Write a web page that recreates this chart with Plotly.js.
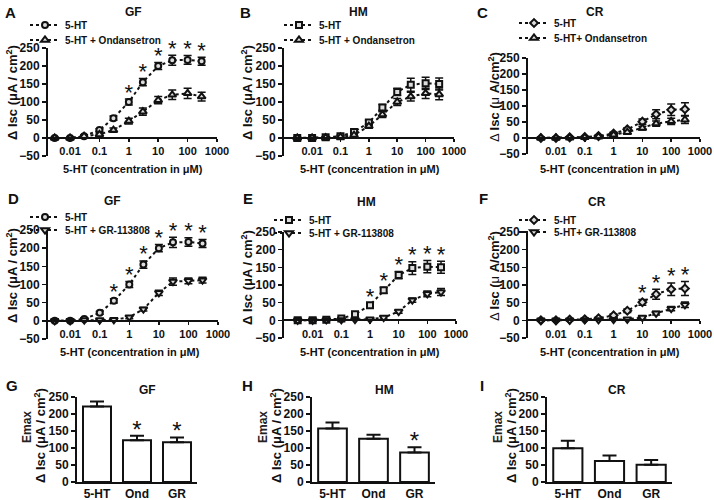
<!DOCTYPE html>
<html><head><meta charset="utf-8">
<script src="https://cdn.plot.ly/plotly-3.0.1.min.js"></script>
<style>html,body{margin:0;padding:0;background:#fff;}#chart{width:714px;height:500px;}</style>
</head><body><div id="chart"></div>
<script>
// ---------- data ----------
const conc = [0.003, 0.01, 0.03, 0.1, 0.3, 1, 3, 10, 30, 100, 300];
const xTickVals = [0.01, 0.1, 1, 10, 100, 1000];
const xTickText = ['0.01', '0.1', '1', '10', '100', '1000'];

const gf_5ht     = [0, 0, 5, 22, 55, 100, 155, 200, 216, 217, 213];
const gf_5ht_sem = [2, 2, 3, 4, 6, 8, 10, 10, 14, 12, 11];
const gf_ond     = [0, 0, 5, 10, 22, 47, 73, 105, 120, 124, 115];
const gf_ond_sem = [2, 2, 3, 4, 6, 8, 10, 10, 13, 14, 12];
const gf_gr      = [0, 0, 2, 2, 3, 10, 32, 77, 108, 110, 112];
const gf_gr_sem  = [2, 2, 2, 2, 3, 4, 5, 7, 10, 8, 8];

const hm_5ht     = [0, 0, 2, 5, 17, 43, 85, 128, 148, 152, 150];
const hm_5ht_sem = [2, 2, 2, 3, 4, 6, 8, 10, 18, 17, 17];
const hm_ond     = [0, 0, 1, 3, 8, 33, 65, 100, 115, 124, 121];
const hm_ond_sem = [2, 2, 2, 3, 4, 6, 8, 10, 12, 14, 15];
const hm_gr      = [0, 0, 1, 1, 2, 3, 8, 25, 57, 75, 80];
const hm_gr_sem  = [2, 2, 2, 2, 2, 3, 4, 5, 6, 8, 10];

const cr_5ht     = [0, 0, 2, 3, 6, 14, 27, 51, 74, 88, 90];
const cr_5ht_sem = [2, 2, 2, 2, 3, 4, 5, 8, 14, 18, 20];
const cr_ond     = [0, 0, 1, 2, 4, 10, 18, 31, 45, 52, 57];
const cr_ond_sem = [2, 2, 2, 2, 3, 4, 5, 6, 8, 10, 12];
const cr_gr      = [0, 0, 0, 1, 1, 2, 3, 8, 20, 33, 44];
const cr_gr_sem  = [1, 1, 1, 1, 1, 2, 2, 4, 5, 6, 8];

// significance flags (1 = asterisk above the 5-HT point)
const sigA = [0, 0, 0, 0, 0, 1, 1, 1, 1, 1, 1];
const sigB = [0, 0, 0, 0, 0, 0, 0, 0, 0, 0, 0];
const sigC = [0, 0, 0, 0, 0, 0, 0, 0, 0, 0, 0];
const sigD = [0, 0, 0, 0, 1, 1, 1, 1, 1, 1, 1];
const sigE = [0, 0, 0, 0, 0, 1, 1, 1, 1, 1, 1];
const sigF = [0, 0, 0, 0, 0, 0, 0, 1, 1, 1, 1];

const groups = ['5-HT', 'Ond', 'GR'];
const gf_emax = [222, 123, 117];
const gf_emax_sem = [15, 13, 14];
const gf_emax_sig = [0, 1, 1];
const hm_emax = [157, 127, 87];
const hm_emax_sem = [18, 12, 15];
const hm_emax_sig = [0, 0, 1];
const cr_emax = [99, 62, 51];
const cr_emax_sem = [22, 16, 14];
const cr_emax_sig = [0, 0, 0];

const yTicksCurve = [-50, 0, 50, 100, 150, 200, 250];
const yTicksBar = [0, 50, 100, 150, 200, 250];

// ---------- helpers ----------
const W = 714, H = 500;
const FONT = 'Liberation Sans, Arial, sans-serif';
const fx = px => px / W;
const fy = py => 1 - py / H;
const bold = (size) => ({family: FONT, size: size, color: '#111', weight: 'bold'});
const STAR_PAD_CURVE = 14;   // gap (data units) between error cap and asterisk
const STAR_PAD_BAR = 12;

const YT_STD = '<b>Δ Isc (μA / cm<sup>2</sup>)</b>';
const YT_CR = 'Δ <b>Isc (</b>μ<b> A/cm</b><sup><b>2</b></sup><b>)</b>';

const curvePanels = [
  {n: 1, letter: 'A', title: 'GF', l: 48, r: 217, t: 48, b: 156, L: -2.75,
   s1: gf_5ht, e1: gf_5ht_sem, s2: gf_ond, e2: gf_ond_sem, sig: sigA,
   sym1: 'circle', sym2: 'triangle-up', n1: '5-HT', n2: '5-HT + Ondansetron', yt: YT_STD,
   lx: 53, ly1: 25, ly2: 40, tx: 133, ty: 12, ax: 10, ay: 12, xtx: 133, xty: 169, ytx: 12, yty: 93},
  {n: 2, letter: 'B', title: 'HM', l: 284, r: 454, t: 48, b: 156, L: -2.99,
   s1: hm_5ht, e1: hm_5ht_sem, s2: hm_ond, e2: hm_ond_sem, sig: sigB,
   sym1: 'square', sym2: 'triangle-up', n1: '5-HT', n2: '5-HT + Ondansetron', yt: YT_STD,
   lx: 307, ly1: 25, ly2: 40, tx: 358, ty: 12, ax: 245, ay: 12, xtx: 370, xty: 169, ytx: 247, yty: 93},
  {n: 3, letter: 'C', title: 'CR', l: 528, r: 700, t: 58, b: 154, L: -2.97,
   s1: cr_5ht, e1: cr_5ht_sem, s2: cr_ond, e2: cr_ond_sem, sig: sigC,
   sym1: 'diamond', sym2: 'triangle-up', n1: '5-HT', n2: '5-HT+ Ondansetron', yt: YT_CR,
   lx: 542, ly1: 23, ly2: 38, tx: 595, ty: 12, ax: 482, ay: 12, xtx: 610, xty: 169, ytx: 494, yty: 97},
  {n: 4, letter: 'D', title: 'GF', l: 48, r: 218, t: 230, b: 339, L: -2.75,
   s1: gf_5ht, e1: gf_5ht_sem, s2: gf_gr, e2: gf_gr_sem, sig: sigD,
   sym1: 'circle', sym2: 'triangle-down', n1: '5-HT', n2: '5-HT + GR-113808', yt: YT_STD,
   lx: 53, ly1: 217, ly2: 230, tx: 112, ty: 201, ax: 13, ay: 198, xtx: 130, xty: 352, ytx: 12, yty: 276},
  {n: 5, letter: 'E', title: 'HM', l: 284, r: 456, t: 232, b: 338, L: -3.0,
   s1: hm_5ht, e1: hm_5ht_sem, s2: hm_gr, e2: hm_gr_sem, sig: sigE,
   sym1: 'square', sym2: 'triangle-down', n1: '5-HT', n2: '5-HT + GR-113808', yt: YT_STD,
   lx: 297, ly1: 220, ly2: 233, tx: 367, ty: 202, ax: 248, ay: 198, xtx: 370, xty: 352, ytx: 247, yty: 278},
  {n: 6, letter: 'F', title: 'CR', l: 528, r: 700, t: 232, b: 338, L: -2.97,
   s1: cr_5ht, e1: cr_5ht_sem, s2: cr_gr, e2: cr_gr_sem, sig: sigF,
   sym1: 'diamond', sym2: 'triangle-down', n1: '5-HT', n2: '5-HT+ GR-113808', yt: YT_CR,
   lx: 542, ly1: 220, ly2: 232, tx: 597, ty: 202, ax: 483, ay: 198, xtx: 610, xty: 352, ytx: 494, yty: 276}
];

const barPanels = [
  {n: 7, letter: 'G', title: 'GF', l: 77, r: 197, t: 397, b: 482, v: gf_emax, e: gf_emax_sem, sig: gf_emax_sig,
   tx: 147, ty: 390, ax: 12, ay: 385, e1x: 27, e1y: 427, e2x: 40, e2y: 436},
  {n: 8, letter: 'H', title: 'HM', l: 312, r: 435, t: 397, b: 482, v: hm_emax, e: hm_emax_sem, sig: hm_emax_sig,
   tx: 384, ty: 390, ax: 247, ay: 385, e1x: 263, e1y: 427, e2x: 276, e2y: 436},
  {n: 9, letter: 'I', title: 'CR', l: 547, r: 672, t: 397, b: 482, v: cr_emax, e: cr_emax_sem, sig: cr_emax_sig,
   tx: 617, ty: 390, ax: 482, ay: 385, e1x: 498, e1y: 427, e2x: 511, e2y: 436}
];

const traces = [];
const layout = {
  width: W, height: H, margin: {l: 0, r: 0, t: 0, b: 0},
  paper_bgcolor: '#fff', plot_bgcolor: 'rgba(0,0,0,0)',
  showlegend: true, font: {family: FONT, color: '#111'},
  annotations: []
};

function addText(px, py, text, font, angle) {
  layout.annotations.push({xref: 'paper', yref: 'paper', x: fx(px), y: fy(py), text: text,
    showarrow: false, xanchor: 'center', yanchor: 'middle', font: font, textangle: angle || 0});
}

let legendIdx = 0;
function nextLegend(px, py) {
  legendIdx += 1;
  const key = legendIdx === 1 ? 'legend' : 'legend' + legendIdx;
  layout[key] = {
    x: fx(px - 28), y: fy(py), xanchor: 'left', yanchor: 'middle',
    bgcolor: 'rgba(0,0,0,0)', borderwidth: 0, itemwidth: 30,
    font: {family: FONT, size: 10, color: '#111', weight: 'bold'},
    itemclick: false, itemdoubleclick: false
  };
  return key;
}

function seriesTrace(xa, ya, ys, es, sym, name, legendKey) {
  return {
    type: 'scatter', mode: 'lines+markers', x: conc, y: ys, name: name,
    xaxis: xa, yaxis: ya, legend: legendKey,
    line: {color: '#111', width: 2, dash: 'dot'},
    marker: {symbol: sym, size: sym.indexOf('triangle') === 0 ? 7 : 6, color: '#ddd', line: {color: '#111', width: 2}},
    error_y: {type: 'data', array: es, visible: true, color: '#111', thickness: 1.5, width: 4},
    cliponaxis: false, hoverinfo: 'skip'
  };
}

curvePanels.forEach(p => {
  const xa = 'x' + (p.n === 1 ? '' : p.n), ya = 'y' + (p.n === 1 ? '' : p.n);
  const xk = 'xaxis' + (p.n === 1 ? '' : p.n), yk = 'yaxis' + (p.n === 1 ? '' : p.n);
  const zeroPx = p.b - (p.b - p.t) * 50 / 300;
  layout[xk] = {
    type: 'log', range: [p.L, 3], domain: [fx(p.l), fx(p.r)],
    anchor: 'free', position: fy(zeroPx),
    tickvals: xTickVals, ticktext: xTickText, ticks: 'outside', ticklen: 3, tickwidth: 1.5, tickcolor: '#111',
    showline: true, linewidth: 2, linecolor: '#111', showgrid: false, zeroline: false,
    tickfont: bold(11)
  };
  layout[yk] = {
    range: [-50, 250], domain: [fy(p.b), fy(p.t)], anchor: xa,
    tickvals: yTicksCurve, ticks: 'outside', ticklen: 4, tickwidth: 1.5, tickcolor: '#111',
    showline: true, linewidth: 2, linecolor: '#111', showgrid: false, zeroline: false,
    tickfont: bold(12)
  };
  const lg1 = nextLegend(p.lx, p.ly1);
  const lg2 = nextLegend(p.lx, p.ly2);
  traces.push(seriesTrace(xa, ya, p.s1, p.e1, p.sym1, p.n1, lg1));
  traces.push(seriesTrace(xa, ya, p.s2, p.e2, p.sym2, p.n2, lg2));
  const sx = [], sy = [];
  conc.forEach((c, i) => { if (p.sig[i]) { sx.push(c); sy.push(p.s1[i] + p.e1[i] + STAR_PAD_CURVE); } });
  if (sx.length) {
    traces.push({type: 'scatter', mode: 'text', x: sx, y: sy, text: sx.map(() => '*'),
      textposition: 'middle center', textfont: {family: FONT, size: 22, color: '#111'},
      xaxis: xa, yaxis: ya, showlegend: false, cliponaxis: false, hoverinfo: 'skip'});
  }
  addText(p.xtx, p.xty, '<b>5-HT (concentration in μM)</b>', bold(11));
  addText(p.ytx, p.yty, p.yt, {family: FONT, size: 13, color: '#111'}, -90);
  addText(p.tx, p.ty, '<b>' + p.title + '</b>', bold(12));
  addText(p.ax, p.ay, '<b>' + p.letter + '</b>', bold(15));
});

barPanels.forEach(p => {
  const xa = 'x' + p.n, ya = 'y' + p.n;
  layout['xaxis' + p.n] = {
    type: 'category', range: [-0.5, 2.5], domain: [fx(p.l), fx(p.r)], anchor: ya,
    ticks: '', showline: true, linewidth: 2, linecolor: '#111', showgrid: false, zeroline: false,
    tickfont: bold(12)
  };
  layout['yaxis' + p.n] = {
    range: [0, 250], domain: [fy(p.b), fy(p.t)], anchor: xa,
    tickvals: yTicksBar, ticks: 'outside', ticklen: 4, tickwidth: 1.5, tickcolor: '#111',
    showline: true, linewidth: 2, linecolor: '#111', showgrid: false, zeroline: false,
    tickfont: bold(12)
  };
  traces.push({type: 'bar', x: groups, y: p.v, xaxis: xa, yaxis: ya, width: 0.7, showlegend: false,
    marker: {color: '#fff', line: {color: '#111', width: 2}},
    error_y: {type: 'data', array: p.e, arrayminus: p.e.map(() => 0), symmetric: false, color: '#111', thickness: 2, width: 7},
    cliponaxis: false, hoverinfo: 'skip'});
  const sx = [], sy = [];
  groups.forEach((g, i) => { if (p.sig[i]) { sx.push(g); sy.push(p.v[i] + p.e[i] + STAR_PAD_BAR); } });
  if (sx.length) {
    traces.push({type: 'scatter', mode: 'text', x: sx, y: sy, text: sx.map(() => '*'),
      textposition: 'middle center', textfont: {family: FONT, size: 24, color: '#111'},
      xaxis: xa, yaxis: ya, showlegend: false, cliponaxis: false, hoverinfo: 'skip'});
  }
  addText(p.e1x, p.e1y, '<b>Emax</b>', {family: FONT, size: 12, color: '#222'}, -90);
  addText(p.e2x, p.e2y, '<b>Δ Isc (μA / cm<sup>2</sup>)</b>', {family: FONT, size: 13, color: '#111'}, -90);
  addText(p.tx, p.ty, '<b>' + p.title + '</b>', bold(12));
  addText(p.ax, p.ay, '<b>' + p.letter + '</b>', bold(15));
});

Plotly.newPlot('chart', traces, layout, {staticPlot: true, displayModeBar: false});
</script>
</body></html>
